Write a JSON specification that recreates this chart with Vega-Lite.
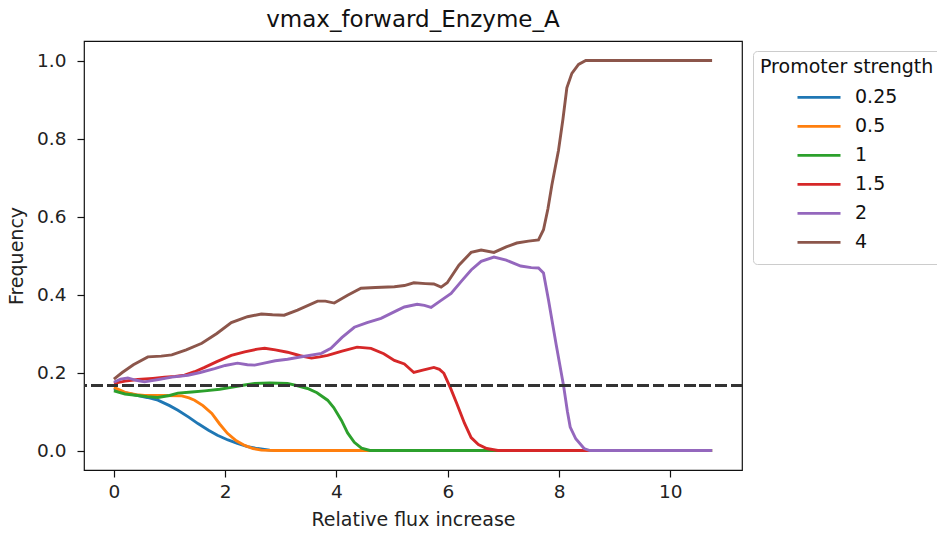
{
  "$schema": "https://vega.github.io/schema/vega-lite/v6.json",
  "width": 658,
  "height": 429,
  "autosize": "none",
  "padding": {"left": 84, "top": 41, "right": 195, "bottom": 64},
  "background": "white",
  "config": {
    "font": "DejaVu Sans",
    "view": {"stroke": "#111", "strokeWidth": 1.2},
    "axis": {"domain": false, "grid": false, "tickColor": "#111", "tickSize": 7, "tickWidth": 1.2, "labelFontSize": 18.5, "labelColor": "#222", "titleFontSize": 19, "titleFontWeight": "normal", "titleColor": "#222", "labelFont": "DejaVu Sans", "titleFont": "DejaVu Sans"}
  },
  "title": {"text": "vmax_forward_Enzyme_A", "fontSize": 23, "fontWeight": "normal", "font": "DejaVu Sans", "color": "#111", "offset": 9},
  "data": {"values": [
    {"s":"0.25","x":0,"y":0.158},{"s":"0.25","x":0.2,"y":0.148},{"s":"0.25","x":0.43,"y":0.141},{"s":"0.25","x":0.6,"y":0.136},{"s":"0.25","x":0.79,"y":0.129},{"s":"0.25","x":1.0,"y":0.115},{"s":"0.25","x":1.15,"y":0.103},{"s":"0.25","x":1.35,"y":0.085},{"s":"0.25","x":1.51,"y":0.069},{"s":"0.25","x":1.7,"y":0.052},{"s":"0.25","x":1.86,"y":0.039},{"s":"0.25","x":2.05,"y":0.027},{"s":"0.25","x":2.22,"y":0.018},{"s":"0.25","x":2.4,"y":0.01},{"s":"0.25","x":2.58,"y":0.005},{"s":"0.25","x":2.8,"y":0.001},{"s":"0.25","x":3.0,"y":0},{"s":"0.25","x":10.75,"y":0},
    {"s":"0.5","x":0,"y":0.162},{"s":"0.5","x":0.2,"y":0.149},{"s":"0.5","x":0.4,"y":0.143},{"s":"0.5","x":0.55,"y":0.141},{"s":"0.5","x":0.9,"y":0.141},{"s":"0.5","x":1.22,"y":0.14},{"s":"0.5","x":1.35,"y":0.135},{"s":"0.5","x":1.45,"y":0.129},{"s":"0.5","x":1.6,"y":0.115},{"s":"0.5","x":1.76,"y":0.095},{"s":"0.5","x":1.9,"y":0.068},{"s":"0.5","x":2.04,"y":0.044},{"s":"0.5","x":2.2,"y":0.025},{"s":"0.5","x":2.35,"y":0.013},{"s":"0.5","x":2.5,"y":0.005},{"s":"0.5","x":2.65,"y":0.001},{"s":"0.5","x":2.9,"y":0},{"s":"0.5","x":10.75,"y":0},
    {"s":"1","x":0,"y":0.153},{"s":"1","x":0.2,"y":0.145},{"s":"1","x":0.43,"y":0.141},{"s":"1","x":0.6,"y":0.138},{"s":"1","x":0.79,"y":0.136},{"s":"1","x":1.0,"y":0.141},{"s":"1","x":1.15,"y":0.147},{"s":"1","x":1.4,"y":0.15},{"s":"1","x":1.63,"y":0.153},{"s":"1","x":1.9,"y":0.157},{"s":"1","x":2.11,"y":0.162},{"s":"1","x":2.35,"y":0.168},{"s":"1","x":2.53,"y":0.172},{"s":"1","x":2.8,"y":0.173},{"s":"1","x":3.12,"y":0.172},{"s":"1","x":3.3,"y":0.166},{"s":"1","x":3.48,"y":0.159},{"s":"1","x":3.65,"y":0.148},{"s":"1","x":3.84,"y":0.129},{"s":"1","x":3.95,"y":0.11},{"s":"1","x":4.09,"y":0.077},{"s":"1","x":4.2,"y":0.045},{"s":"1","x":4.32,"y":0.021},{"s":"1","x":4.45,"y":0.006},{"s":"1","x":4.6,"y":0},{"s":"1","x":10.75,"y":0},
    {"s":"1.5","x":0,"y":0.172},{"s":"1.5","x":0.2,"y":0.178},{"s":"1.5","x":0.43,"y":0.182},{"s":"1.5","x":0.7,"y":0.185},{"s":"1.5","x":0.91,"y":0.188},{"s":"1.5","x":1.1,"y":0.19},{"s":"1.5","x":1.27,"y":0.193},{"s":"1.5","x":1.45,"y":0.202},{"s":"1.5","x":1.63,"y":0.213},{"s":"1.5","x":1.85,"y":0.228},{"s":"1.5","x":2.11,"y":0.244},{"s":"1.5","x":2.35,"y":0.253},{"s":"1.5","x":2.58,"y":0.26},{"s":"1.5","x":2.71,"y":0.262},{"s":"1.5","x":2.9,"y":0.258},{"s":"1.5","x":3.12,"y":0.252},{"s":"1.5","x":3.35,"y":0.243},{"s":"1.5","x":3.55,"y":0.237},{"s":"1.5","x":3.7,"y":0.24},{"s":"1.5","x":3.84,"y":0.244},{"s":"1.5","x":4.1,"y":0.255},{"s":"1.5","x":4.37,"y":0.265},{"s":"1.5","x":4.62,"y":0.262},{"s":"1.5","x":4.85,"y":0.248},{"s":"1.5","x":5.04,"y":0.231},{"s":"1.5","x":5.22,"y":0.222},{"s":"1.5","x":5.39,"y":0.2},{"s":"1.5","x":5.55,"y":0.206},{"s":"1.5","x":5.75,"y":0.213},{"s":"1.5","x":5.85,"y":0.208},{"s":"1.5","x":5.93,"y":0.198},{"s":"1.5","x":6.05,"y":0.16},{"s":"1.5","x":6.16,"y":0.121},{"s":"1.5","x":6.3,"y":0.07},{"s":"1.5","x":6.42,"y":0.033},{"s":"1.5","x":6.55,"y":0.015},{"s":"1.5","x":6.7,"y":0.005},{"s":"1.5","x":6.9,"y":0},{"s":"1.5","x":10.75,"y":0},
    {"s":"2","x":0,"y":0.175},{"s":"2","x":0.12,"y":0.183},{"s":"2","x":0.25,"y":0.186},{"s":"2","x":0.4,"y":0.18},{"s":"2","x":0.55,"y":0.176},{"s":"2","x":0.8,"y":0.182},{"s":"2","x":1.04,"y":0.188},{"s":"2","x":1.33,"y":0.193},{"s":"2","x":1.55,"y":0.2},{"s":"2","x":1.81,"y":0.21},{"s":"2","x":2.0,"y":0.218},{"s":"2","x":2.22,"y":0.224},{"s":"2","x":2.4,"y":0.22},{"s":"2","x":2.53,"y":0.219},{"s":"2","x":2.7,"y":0.224},{"s":"2","x":2.9,"y":0.23},{"s":"2","x":3.12,"y":0.234},{"s":"2","x":3.4,"y":0.241},{"s":"2","x":3.73,"y":0.249},{"s":"2","x":3.9,"y":0.262},{"s":"2","x":4.1,"y":0.29},{"s":"2","x":4.32,"y":0.316},{"s":"2","x":4.55,"y":0.328},{"s":"2","x":4.8,"y":0.339},{"s":"2","x":5.1,"y":0.36},{"s":"2","x":5.22,"y":0.368},{"s":"2","x":5.45,"y":0.375},{"s":"2","x":5.58,"y":0.372},{"s":"2","x":5.7,"y":0.367},{"s":"2","x":5.88,"y":0.385},{"s":"2","x":6.06,"y":0.403},{"s":"2","x":6.25,"y":0.435},{"s":"2","x":6.42,"y":0.463},{"s":"2","x":6.6,"y":0.485},{"s":"2","x":6.83,"y":0.496},{"s":"2","x":7.05,"y":0.488},{"s":"2","x":7.31,"y":0.473},{"s":"2","x":7.5,"y":0.469},{"s":"2","x":7.63,"y":0.468},{"s":"2","x":7.72,"y":0.455},{"s":"2","x":7.81,"y":0.386},{"s":"2","x":7.95,"y":0.27},{"s":"2","x":8.08,"y":0.167},{"s":"2","x":8.15,"y":0.1},{"s":"2","x":8.2,"y":0.06},{"s":"2","x":8.3,"y":0.03},{"s":"2","x":8.45,"y":0.005},{"s":"2","x":8.55,"y":0},{"s":"2","x":10.75,"y":0},
    {"s":"4","x":0,"y":0.183},{"s":"4","x":0.15,"y":0.2},{"s":"4","x":0.35,"y":0.22},{"s":"4","x":0.61,"y":0.24},{"s":"4","x":0.85,"y":0.242},{"s":"4","x":1.04,"y":0.245},{"s":"4","x":1.3,"y":0.258},{"s":"4","x":1.58,"y":0.275},{"s":"4","x":1.85,"y":0.3},{"s":"4","x":2.11,"y":0.328},{"s":"4","x":2.4,"y":0.343},{"s":"4","x":2.65,"y":0.35},{"s":"4","x":2.85,"y":0.348},{"s":"4","x":3.06,"y":0.347},{"s":"4","x":3.3,"y":0.36},{"s":"4","x":3.66,"y":0.383},{"s":"4","x":3.8,"y":0.383},{"s":"4","x":3.96,"y":0.378},{"s":"4","x":4.2,"y":0.398},{"s":"4","x":4.44,"y":0.416},{"s":"4","x":4.7,"y":0.418},{"s":"4","x":5.04,"y":0.42},{"s":"4","x":5.22,"y":0.423},{"s":"4","x":5.39,"y":0.43},{"s":"4","x":5.6,"y":0.428},{"s":"4","x":5.75,"y":0.427},{"s":"4","x":5.88,"y":0.419},{"s":"4","x":5.99,"y":0.43},{"s":"4","x":6.2,"y":0.475},{"s":"4","x":6.42,"y":0.508},{"s":"4","x":6.6,"y":0.514},{"s":"4","x":6.83,"y":0.508},{"s":"4","x":7.05,"y":0.522},{"s":"4","x":7.24,"y":0.532},{"s":"4","x":7.45,"y":0.537},{"s":"4","x":7.63,"y":0.54},{"s":"4","x":7.72,"y":0.566},{"s":"4","x":7.8,"y":0.62},{"s":"4","x":7.87,"y":0.68},{"s":"4","x":7.99,"y":0.77},{"s":"4","x":8.07,"y":0.85},{"s":"4","x":8.14,"y":0.93},{"s":"4","x":8.23,"y":0.967},{"s":"4","x":8.35,"y":0.99},{"s":"4","x":8.48,"y":1.0},{"s":"4","x":10.75,"y":1.0}
  ]},
  "layer": [
    {
      "mark": {"type": "line", "strokeWidth": 2.9, "clip": true},
      "encoding": {
        "x": {"field": "x", "type": "quantitative", "scale": {"domain": [-0.5375, 11.2875], "nice": false, "zero": false}, "axis": {"values": [0, 2, 4, 6, 8, 10], "title": "Relative flux increase", "labelPadding": 5, "titlePadding": 10}},
        "y": {"field": "y", "type": "quantitative", "scale": {"domain": [-0.05, 1.05], "nice": false}, "axis": {"values": [0, 0.2, 0.4, 0.6, 0.8, 1.0], "format": ".1f", "title": "Frequency", "labelPadding": 11, "titlePadding": 10}},
        "color": {"field": "s", "type": "nominal", "sort": null, "scale": {"domain": ["0.25", "0.5", "1", "1.5", "2", "4"], "range": ["#1f77b4", "#ff7f0e", "#2ca02c", "#d62728", "#9467bd", "#8c564b"]},
          "legend": {"title": "Promoter strength", "orient": "none", "legendX": 669, "legendY": 10, "symbolType": "stroke", "symbolSize": 1849, "symbolStrokeWidth": 2.9, "symbolOffset": 36, "labelOffset": 13, "labelFontSize": 19, "titleFontSize": 19, "titleFontWeight": "normal", "titleColor": "#111", "labelColor": "#111", "padding": 7, "strokeColor": "#cccccc", "cornerRadius": 4, "fillColor": "white", "clipHeight": 28.8, "rowPadding": 0, "titlePadding": 6}},
        "order": {"field": "x", "type": "quantitative"}
      }
    },
    {
      "mark": {"type": "rule", "strokeDash": [10.9, 4.7], "strokeWidth": 3, "color": "#333"},
      "encoding": {"y": {"datum": 0.16667}}
    }
  ]
}
